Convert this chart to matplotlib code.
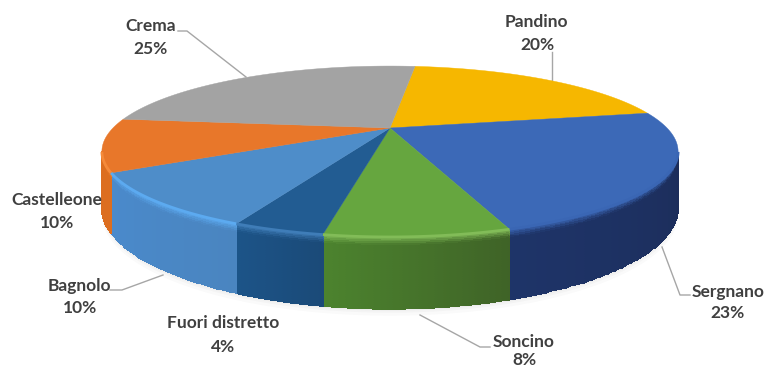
import numpy as np
import matplotlib
matplotlib.use("Agg")
import matplotlib.pyplot as plt

# Quote per distretto, in senso orario dalla fetta di Pandino
labels = ["Pandino", "Sergnano", "Soncino", "Fuori distretto", "Bagnolo", "Castelleone", "Crema"]
values = [20, 23, 8, 4, 10, 10, 25]
top_colors = ["#F6B700", "#3C69B7", "#66A63F", "#225C92", "#4E8DC9", "#E8772A", "#A3A3A3"]
rim_colors = ["#F8C020", "#3A66B4", "#82BC58", "#3F7DB8", "#5CAAF0", "#F58A3A", "#B0B0B0"]
side_start = ["#B88A00", "#1C2D5A", "#3F6327", "#1B4A78", "#4A85C0", "#DC6E20", "#808080"]
side_end = ["#B88A00", "#1E3468", "#4C832E", "#1C5488", "#4A8ACC", "#DC6E20", "#808080"]

label_pos = [(536, 22), (728, 292), (524, 342), (223, 323), (79, 286), (57, 200), (151, 26)]
pct_pos = [(537, 45), (728, 313), (524, 360), (223, 347), (80, 308), (57, 223), (151, 49)]

# Linee guida delle etichette
leaders = [
    ([552, 552], [52, 80]),
    ([662, 680, 690], [247, 295, 295]),
    ([420, 480, 490], [315, 347, 347]),
    ([110, 122, 163], [290, 290, 275]),
    ([178, 187, 246], [31, 31, 77]),
]

# Proiezione prospettica del disco
CX, CY = 390, 128
SX, SY = 277, 79
K = 0.275
DEPTH = 52
START = 6.6


def project(theta):
    u = np.sin(theta)
    v = np.cos(theta)
    d = 1 + K * v
    return CX + SX * u / d, CY - SY * v / d, DEPTH / d


def rgb(c):
    return np.array(matplotlib.colors.to_rgb(c))


fig = plt.figure(figsize=(7.65, 3.69), dpi=100)
ax = fig.add_axes([0, 0, 1, 1])
ax.set_xlim(0, 765)
ax.set_ylim(369, 0)
ax.axis("off")

edges = np.radians(START + np.cumsum([0] + values) * 3.6)

# Ombra leggera sotto il disco
t = np.linspace(0, 2 * np.pi, 300)
x, y, h = project(t)
for grow, alpha in [(7, 0.04), (4, 0.05), (2, 0.06)]:
    ax.fill(x, y + h + grow, color="#8A8A8A", alpha=alpha, lw=0, zorder=1)

# Fianchi: visibili solo dal lato anteriore del disco
vis_a = np.arccos(-K)
vis_b = 2 * np.pi - vis_a
fracs = np.linspace(0, 1, 41)
for i in range(len(values)):
    a = max(edges[i] % (2 * np.pi), vis_a)
    b = min(edges[i + 1] % (2 * np.pi), vis_b)
    if b <= a:
        continue
    t = np.linspace(a, b, 61)
    x, y, h = project(t)
    xx = np.tile(x, (len(fracs), 1))
    yy = np.outer(fracs, h) + y
    # sfumatura lungo l'arco e dal bordo chiaro verso il basso
    along = np.linspace(0, 1, len(t) - 1)[None, :, None]
    down = np.clip((fracs[:-1] + 0.01) / 0.12, 0, 1)[:, None, None]
    base = rgb(side_start[i]) + (rgb(side_end[i]) - rgb(side_start[i])) * along
    cols = rgb(rim_colors[i]) * (1 - down) + base * down
    ax.pcolormesh(xx, yy, cols, shading="flat", edgecolors="face", linewidth=0.2, zorder=2)

# Facce superiori
for i in range(len(values)):
    t = np.linspace(edges[i], edges[i + 1], 100)
    x, y, h = project(t)
    ax.fill(np.r_[CX, x], np.r_[CY, y], color=top_colors[i], lw=0.3, ec=top_colors[i], zorder=3)
    # bordo chiaro sul lato frontale
    front = (t % (2 * np.pi) > vis_a) & (t % (2 * np.pi) < vis_b)
    if front.any():
        ax.plot(x[front], y[front], color=rim_colors[i], lw=2, zorder=4, solid_capstyle="butt")

for xs, ys in leaders:
    ax.plot(xs, ys, color="#A6A6A6", lw=1, zorder=1.5)

txt = dict(family="Lato", weight="bold", fontsize=12.5, color="#404040", ha="center", va="center", zorder=6)
for name, val, p1, p2 in zip(labels, values, label_pos, pct_pos):
    ax.text(p1[0], p1[1], name, **txt)
    ax.text(p2[0], p2[1], f"{val}%", **txt)

fig.savefig("out.png", dpi=100)
